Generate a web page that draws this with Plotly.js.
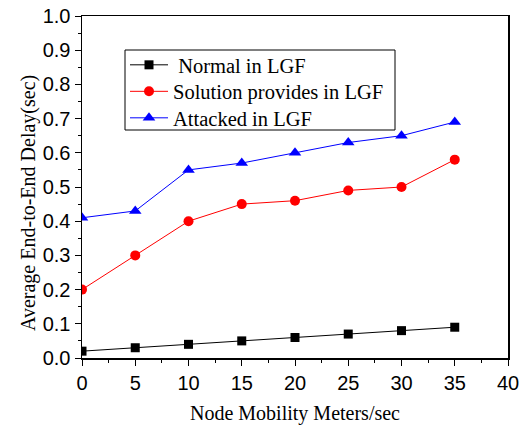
<!DOCTYPE html>
<html><head><meta charset="utf-8">
<script src="https://cdn.plot.ly/plotly-3.0.1.min.js"></script>
<style>body{margin:0;padding:0;background:#fff}#chart{width:525px;height:425px}</style>
</head><body><div id="chart"></div>
<script>
const mobility = [0, 5, 10, 15, 20, 25, 30, 35];
const normalLGF = [0.02, 0.03, 0.04, 0.05, 0.06, 0.07, 0.08, 0.09];
const solutionLGF = [0.20, 0.30, 0.40, 0.45, 0.46, 0.49, 0.50, 0.58];
const attackedLGF = [0.41, 0.43, 0.55, 0.57, 0.60, 0.63, 0.65, 0.69];
const seriesNames = [" Normal in LGF", "Solution provides in LGF", "Attacked in LGF"];

const traces = [
  {x: mobility, y: normalLGF, name: seriesNames[0], mode: "lines+markers", legend: "legend",
   line: {color: "#000000", width: 1}, marker: {symbol: "square", size: 9, color: "#000000"}},
  {x: mobility, y: solutionLGF, name: seriesNames[1], mode: "lines+markers", legend: "legend2",
   line: {color: "#ff0000", width: 1}, marker: {symbol: "circle", size: 10, color: "#ff0000"}},
  {x: mobility, y: attackedLGF, name: seriesNames[2], mode: "lines+markers", legend: "legend3",
   line: {color: "#0000ff", width: 1}, marker: {symbol: "triangle-up", size: 11, color: "#0000ff"}}
];

const serif = "Liberation Serif, Times New Roman, serif";
const sans = "Liberation Sans, Arial, sans-serif";

// plot area: left 82, right 508, top 16, bottom 358 (px)
const px = v => (v - 82) / 426;
const py = v => (358 - v) / 342;

const legendStyle = rowCenter => ({
  x: px(125), y: py(rowCenter), xanchor: "left", yanchor: "middle",
  borderwidth: 0, bgcolor: "rgba(0,0,0,0)",
  font: {family: serif, size: 20.5, color: "#000"}, itemwidth: 38
});

const layout = {
  width: 525, height: 425,
  margin: {l: 82, r: 17, t: 16, b: 67},
  paper_bgcolor: "#fff", plot_bgcolor: "#fff",
  showlegend: true,
  legend: legendStyle(65),
  legend2: legendStyle(91.5),
  legend3: legendStyle(118),
  shapes: [{type: "rect", xref: "paper", yref: "paper", layer: "above",
    x0: px(125), x1: px(395), y0: py(130), y1: py(50),
    line: {color: "#000", width: 1}, fillcolor: "#fff"}],
  xaxis: {range: [0, 40], dtick: 5, tick0: 0, showgrid: false, zeroline: false,
    showline: true, linecolor: "#000", linewidth: 1.5, mirror: true,
    ticks: "outside", ticklen: 6, tickwidth: 1, tickcolor: "#000",
    minor: {dtick: 2.5, ticks: "outside", ticklen: 3, tickcolor: "#000", showgrid: false},
    tickfont: {family: sans, size: 20, color: "#000"},
    title: {text: "Node Mobility Meters/sec", standoff: 15,
      font: {family: serif, size: 20, color: "#000"}}},
  yaxis: {range: [0, 1.0], dtick: 0.1, tick0: 0, tickformat: ".1f", showgrid: false, zeroline: false,
    showline: true, linecolor: "#000", linewidth: 1.5, mirror: true,
    ticks: "outside", ticklen: 6, tickwidth: 1, tickcolor: "#000",
    minor: {dtick: 0.05, ticks: "outside", ticklen: 3, tickcolor: "#000", showgrid: false},
    tickfont: {family: sans, size: 20, color: "#000"}},
  annotations: [{
    text: "Average End-to-End Delay(sec)", textangle: -90, showarrow: false,
    xref: "paper", yref: "paper", x: px(28), y: py(203),
    xanchor: "center", yanchor: "middle",
    font: {family: serif, size: 20, color: "#000"}
  }]
};

Plotly.newPlot("chart", traces, layout, {displayModeBar: false, staticPlot: true});
</script></body></html>
